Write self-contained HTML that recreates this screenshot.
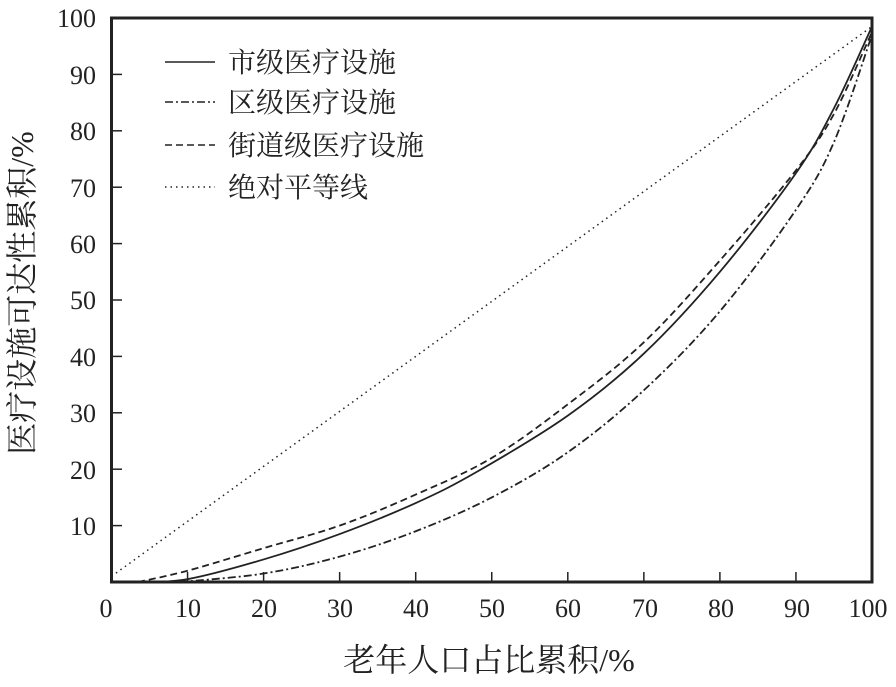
<!DOCTYPE html>
<html><head><meta charset="utf-8"><style>
body{margin:0;background:#fff}
svg text{font-family:"Liberation Serif","Noto Serif CJK SC","Noto Sans CJK SC",serif;fill:#222}
</style></head><body>
<svg id="s" width="896" height="682" xmlns="http://www.w3.org/2000/svg">
<g font-size="26" text-anchor="end">
<text x="96" y="27">100</text><text x="96" y="84">90</text><text x="96" y="140">80</text><text x="96" y="197">70</text><text x="96" y="253">60</text><text x="96" y="309">50</text><text x="96" y="366">40</text><text x="96" y="422">30</text><text x="96" y="479">20</text><text x="96" y="535">10</text>
</g>
<g font-size="26" text-anchor="middle">
<text x="106" y="617">0</text><text x="188" y="617">10</text><text x="264" y="617">20</text><text x="340" y="617">30</text><text x="416" y="617">40</text><text x="492" y="617">50</text><text x="568" y="617">60</text><text x="645" y="617">70</text><text x="721" y="617">80</text><text x="797" y="617">90</text><text x="868" y="617">100</text>
</g>
<text x="489" y="671" font-size="32" text-anchor="middle">老年人口占比累积/%</text>
<text transform="translate(33,293) rotate(-90)" font-size="32" text-anchor="middle">医疗设施可达性累积/%</text>
<g id="g"></g>
<rect x="111.5" y="18" width="760.5" height="564" fill="none" stroke="#222" stroke-width="3"/>
<g stroke="#222" stroke-width="1.5" fill="none">
<line x1="165" y1="62" x2="215" y2="62"/>
<line x1="165" y1="102" x2="215" y2="102" stroke-dasharray="8,3,2,3"/>
<line x1="165" y1="145" x2="215" y2="145" stroke-dasharray="7,4"/>
<line x1="165" y1="187" x2="215" y2="187" stroke-dasharray="1.5,4"/>
</g>
<g font-size="28"><text x="228" y="72">市级医疗设施</text><text x="228" y="112">区级医疗设施</text><text x="228" y="155">街道级医疗设施</text><text x="228" y="197">绝对平等线</text></g>
</svg>
<script>
var X=v=>111.5+7.605*v,Y=v=>582-5.64*v,g=document.getElementById('g'),ns='http://www.w3.org/2000/svg';
function add(tag,a){var e=document.createElementNS(ns,tag);for(var k in a)e.setAttribute(k,a[k]);g.appendChild(e);}
for(var i=1;i<10;i++){add('line',{x1:X(i*10),y1:582,x2:X(i*10),y2:572,stroke:'#222','stroke-width':1.5});add('line',{x1:111.5,y1:Y(i*10),x2:122,y2:Y(i*10),stroke:'#222','stroke-width':1.5});}
function curve(p,d){var s='M'+X(p[0][0])+','+Y(p[0][1]);for(var i=1;i<p.length;i++){var a=p[i-1],b=p[i],c=p[i+1]||b,z=p[i-2]||a;var c1x=a[0]+(b[0]-z[0])/6,c1y=a[1]+(b[1]-z[1])/6,c2x=b[0]-(c[0]-a[0])/6,c2y=b[1]-(c[1]-a[1])/6;s+=' C'+X(c1x)+','+Y(c1y)+' '+X(c2x)+','+Y(c2y)+' '+X(b[0])+','+Y(b[1]);}add('path',{d:s,fill:'none',stroke:'#222','stroke-width':1.8,'stroke-dasharray':d});}
add('line',{x1:X(0),y1:Y(1),x2:X(100),y2:Y(98.5),stroke:'#222','stroke-width':1.5,'stroke-dasharray':'1.5,4'});
curve([[4,0],[10,0.5],[20,4],[30,8.5],[40,14],[48,19.5],[60,29.5],[70,40.5],[80,55],[90,72.5],[95,84],[100,98.5]],'none');
curve([[3.5,0],[10,2],[20,6],[30,10],[40,15.5],[50,22],[60,31.5],[70,42.5],[80,57],[90,73],[95,83],[100,97.5]],'7,4');
curve([[9,0],[20,1.5],[30,4.5],[40,9],[50,15],[60,23],[70,34],[80,48],[90,66],[95,78],[100,97]],'8,3,2,3');
</script>
</body></html>
